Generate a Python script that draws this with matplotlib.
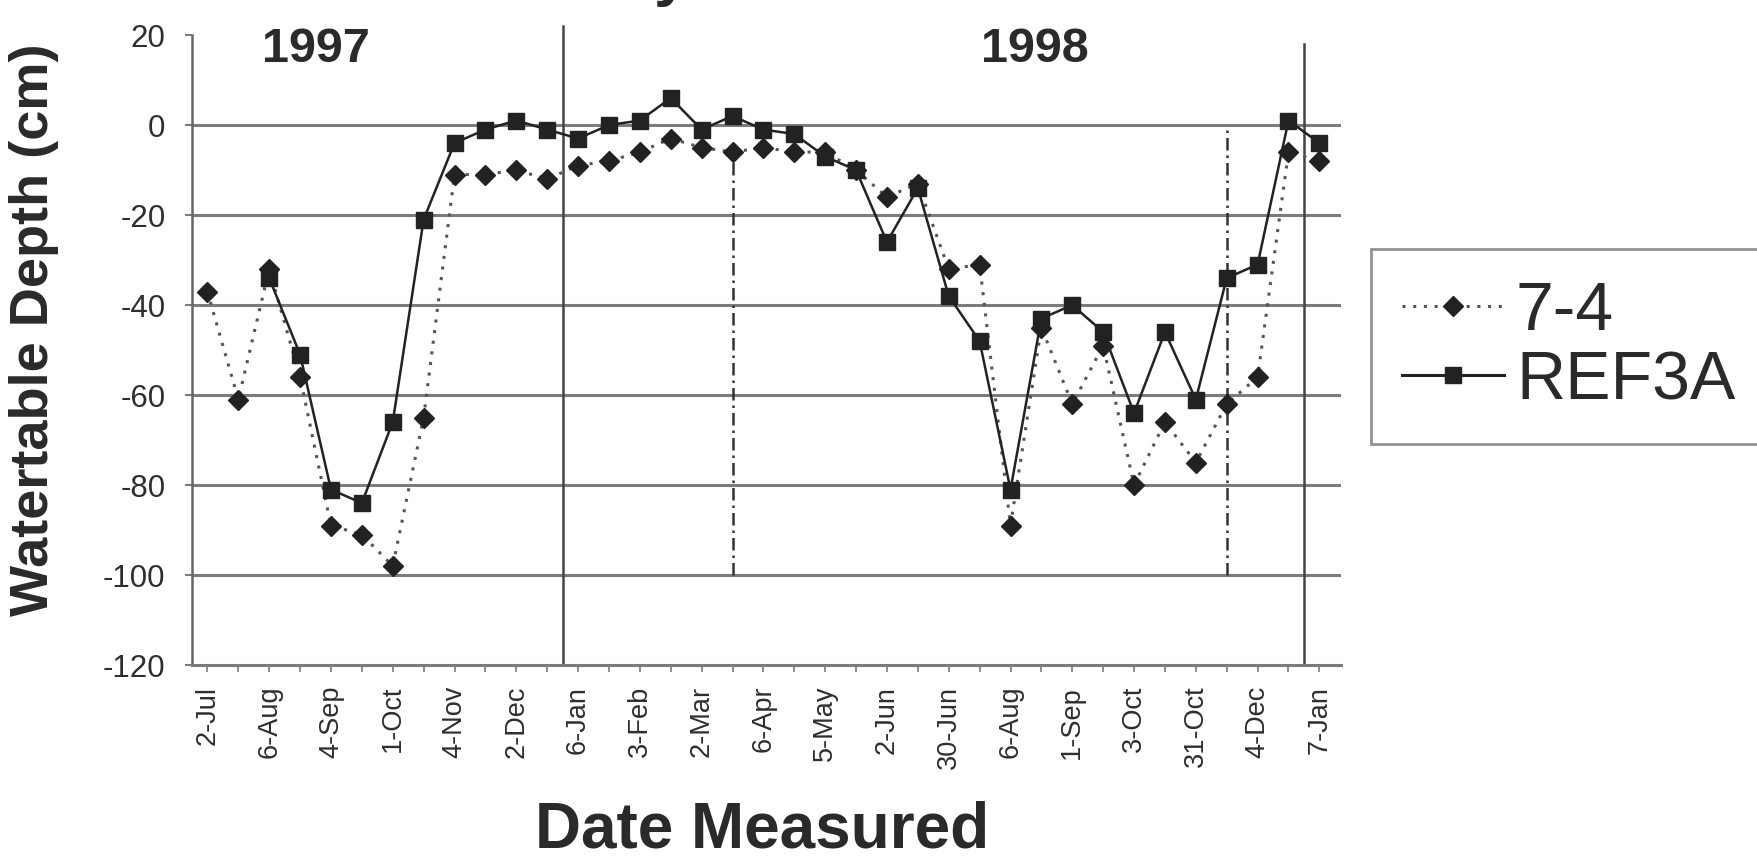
import matplotlib
matplotlib.use("Agg")
import matplotlib.pyplot as plt
from matplotlib.lines import Line2D
import numpy as np

plt.rcParams['font.family'] = ['Liberation Sans', 'DejaVu Sans']

# ---------------- data ----------------
# one category every ~2 weeks, labels on every other one
tick_labels = ['2-Jul', '6-Aug', '4-Sep', '1-Oct', '4-Nov', '2-Dec', '6-Jan',
               '3-Feb', '2-Mar', '6-Apr', '5-May', '2-Jun', '30-Jun', '6-Aug',
               '1-Sep', '3-Oct', '31-Oct', '4-Dec', '7-Jan']

site_74 = [-37, -61, -32, -56, -89, -91, -98, -65, -11, -11, -10, -12, -9,
           -8, -6, -3, -5, -6, -5, -6, -6, -10, -16, -13, -32, -31, -89,
           -45, -62, -49, -80, -66, -75, -62, -56, -6, -8]

ref3a = [np.nan, np.nan, -34, -51, -81, -84, -66, -21, -4, -1, 1, -1, -3,
         0, 1, 6, -1, 2, -1, -2, -7, -10, -26, -14, -38, -48, -81,
         -43, -40, -46, -64, -46, -61, -34, -31, 1, -4]

year_names = ['1997', '1998']
year_label_x = [3.5, 26.8]
year_bounds = [11.5, 35.5]          # solid year separators (between categories)
year_bound_tops = [22, 18]
marker_dates = [17, 33]             # dash-dot reference lines
marker_tops = [-6, 0]

y_ticks = [20, 0, -20, -40, -60, -80, -100, -120]
grid_levels = [0, -20, -40, -60, -80, -100]
# ---------------------------------------------------------

x = np.arange(len(site_74))

fig = plt.figure(figsize=(17.58, 8.59), dpi=100)
ax = fig.add_axes([0.1092, 0.2258, 0.6536, 0.7334])

grid_col = '#7c7c7c'
ink = '#222222'

for g in grid_levels:
    ax.axhline(g, color=grid_col, lw=2.2, zorder=1)

ax.vlines(marker_dates, -100, marker_tops, colors='#333333', lw=1.8,
          linestyles=(0, (5, 2, 1, 2)), zorder=2)
for xb, top in zip(year_bounds, year_bound_tops):
    ax.plot([xb, xb], [-120, top], color='#444444', lw=1.8, clip_on=False, zorder=2)

ax.plot(x, site_74, color='#555555', lw=2.2, linestyle=(0, (1, 2.5)),
        marker='D', ms=10.5, mfc=ink, mec=ink, zorder=3)
ax.plot(x, ref3a, color=ink, lw=1.8, linestyle='-',
        marker='s', ms=11.5, mfc=ink, mec=ink, zorder=4)

for name, xp in zip(year_names, year_label_x):
    ax.text(xp, 16.8, name, fontsize=35, fontweight='bold', color='#2a2a2a',
            ha='center', va='center')

ax.set_xlim(-0.5, 36.7)
ax.set_ylim(-120, 20)

ax.set_xticks(x)
ax.set_xticklabels([tick_labels[i // 2] if i % 2 == 0 else '' for i in x],
                   rotation=90, fontsize=19.5, color='#2e2e2e')
ax.set_yticks(y_ticks)
ax.set_yticklabels([str(v) for v in y_ticks], fontsize=22.5, color='#2e2e2e')
ax.tick_params(axis='x', length=5, width=1.2, color=grid_col, pad=10, direction='out')
ax.tick_params(axis='y', length=5, width=1.5, color=grid_col, pad=14, direction='out')

for side in ['top', 'right']:
    ax.spines[side].set_visible(False)
ax.spines['left'].set_color('#666666')
ax.spines['left'].set_linewidth(1.8)
ax.spines['bottom'].set_color(grid_col)
ax.spines['bottom'].set_linewidth(2.2)

ax.set_ylabel('Watertable Depth (cm)', fontsize=39, fontweight='bold',
              color='#2a2a2a', va='center')
ax.yaxis.set_label_coords(-0.1375, 0.532)
ax.set_xlabel('Date Measured', fontsize=46, fontweight='bold',
              color='#2a2a2a', va='center')
ax.xaxis.set_label_coords(0.496, -0.262)

handles = [
    Line2D([], [], color='#555555', lw=2.2, linestyle=(0, (1, 2.5)),
           marker='D', ms=10.5, mfc=ink, mec=ink),
    Line2D([], [], color=ink, lw=2.2, marker='s', ms=11.5, mfc=ink, mec=ink),
]
leg = fig.legend(handles, ['7-4', 'REF3A'], loc='upper left',
                 bbox_to_anchor=(1371 / 1758, 1 - 249 / 859),
                 fontsize=49, frameon=True, fancybox=False, borderpad=0.45,
                 labelspacing=0.08, handlelength=1.5, handletextpad=0.18,
                 borderaxespad=0)
leg.get_frame().set_edgecolor('#777777')
leg.get_frame().set_linewidth(2)
for t in leg.get_texts():
    t.set_color('#2a2a2a')

# descender of the cropped-off title at the very top edge
fig.text(0.372, 1 + 6 / 859, 'y', fontsize=46, fontweight='bold',
         color='#2a2a2a', ha='left', va='baseline')

fig.savefig('out.png', dpi=100)
